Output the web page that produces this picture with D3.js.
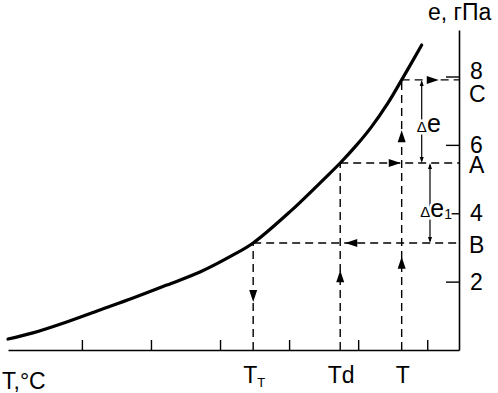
<!DOCTYPE html>
<html><head><meta charset="utf-8">
<script src="https://cdn.jsdelivr.net/npm/d3@7"></script>
<style>
html,body{margin:0;padding:0;background:#fff;}
svg{display:block;}
text{font-family:"Liberation Sans",Arial,sans-serif;fill:#000;}
</style></head>
<body>
<svg id="chart" width="498" height="393"></svg>
<script>
// ---- data ----
const curveT = [-0.07, 0.29, 0.78, 1.26, 1.74, 2.23, 2.71, 3.19, 3.48, 4.01, 4.52, 4.74, 4.98, 5.19, 5.43, 5.63, 5.92];
const curveE = [0.32, 0.50, 0.82, 1.17, 1.52, 1.90, 2.28, 2.78, 3.13, 4.04, 5.03, 5.47, 6.00, 6.52, 7.22, 7.90, 8.92];
const xTickValues = [1, 2, 3, 4, 5, 6];
const yTickValues = [2, 4, 6, 8];
const yTickLabels = ["2", "4", "6", "8"];
const pointNames = ["B", "A", "C"];
const pointE = [3.13, 5.47, 7.90];
const tempNames = ["Tт", "Td", "T"];
const tempValues = [3.48, 4.74, 5.63];
// arrows on guide lines: [t, e, direction]
const arrowT = [5.63, 5.63, 4.74, 3.48, 4.90, 5.53, 6.08];
const arrowE = [2.55, 6.25, 2.16, 1.58, 3.13, 5.47, 7.90];
const arrowDir = ["up", "up", "up", "down", "left", "right", "right"];

// ---- scales ----
const svg = d3.select("#chart");
const x = d3.scaleLinear().domain([-0.07, 6.46]).range([8, 459]);
const y = d3.scaleLinear().domain([0, 9.36]).range([350, 30]);

// ---- axes ----
const xAxis = d3.axisBottom(x).tickValues(xTickValues).tickSize(-10).tickSizeOuter(0).tickFormat("");
const gx = svg.append("g").attr("transform", `translate(0,${y(0)})`).call(xAxis);
const yAxis = d3.axisLeft(y).tickValues(yTickValues).tickSize(13).tickSizeOuter(0).tickFormat("");
const gy = svg.append("g").attr("transform", `translate(${x(6.46)},0)`).call(yAxis);
[gx, gy].forEach(g => {
  g.select(".domain").attr("stroke", "#000").attr("stroke-width", 1.6);
  g.selectAll(".tick line").attr("stroke", "#000").attr("stroke-width", 1.4);
});

// ---- dashed guide lines ----
const dash = "8,5";
const gl = svg.append("g").attr("stroke", "#000").attr("stroke-width", 1.4).attr("stroke-dasharray", dash).attr("fill", "none");
tempValues.forEach((t, i) => {
  const e = pointE[i];
  gl.append("line").attr("x1", x(t)).attr("x2", x(t)).attr("y1", y(0)).attr("y2", y(e));
  gl.append("line").attr("x1", x(t)).attr("x2", x(6.46)).attr("y1", y(e)).attr("y2", y(e));
});

// ---- curve ----
const pts = curveT.map((t, i) => [t, curveE[i]]);
svg.append("path").datum(pts)
  .attr("fill", "none").attr("stroke", "#000").attr("stroke-width", 3.2).attr("stroke-linecap", "round")
  .attr("d", d3.line().x(d => x(d[0])).y(d => y(d[1])).curve(d3.curveCatmullRom.alpha(0.5)));

// ---- arrowheads ----
function head(px, py, dir, L, W) {
  const rot = {up: 0, down: 180, right: 90, left: -90}[dir];
  return svg.append("path")
    .attr("d", `M0,${-L/2} L${W/2},${L/2} L${-W/2},${L/2} Z`)
    .attr("transform", `translate(${px},${py}) rotate(${rot})`)
    .attr("fill", "#000");
}
arrowT.forEach((t, i) => head(x(t), y(arrowE[i]), arrowDir[i], 12, 8));

// ---- delta arrows ----
const dPairs = [[5.92, pointE[2], pointE[1]], [6.04, pointE[1], pointE[0]]];
dPairs.forEach(([t, e1, e2]) => {
  svg.append("line").attr("x1", x(t)).attr("x2", x(t)).attr("y1", y(e1) + 2).attr("y2", y(e2) - 2)
    .attr("stroke", "#000").attr("stroke-width", 1.2);
  head(x(t), y(e1) + 3, "up", 6, 4);
  head(x(t), y(e2) - 3, "down", 6, 4);
});
// delta labels
function deltaText(t, e, sub) {
  const tx = svg.append("text").attr("x", x(t)).attr("y", y(e))
    .attr("stroke", "#fff").attr("stroke-width", 5).attr("paint-order", "stroke");
  tx.append("tspan").attr("font-size", 15).text("Δ");
  tx.append("tspan").attr("font-size", 25).text("e");
  if (sub) tx.append("tspan").attr("font-size", 14).attr("dy", 2).text(sub);
}
deltaText(5.85, (pointE[2] + pointE[1]) / 2 - 0.3, null);
deltaText(5.90, (pointE[1] + pointE[0]) / 2 - 0.4, "1");

// ---- labels ----
const fs = 23;
yTickValues.forEach((v, i) => {
  svg.append("text").attr("x", 470).attr("y", y(v) + (v === 8 ? 3 : 8)).attr("font-size", fs).text(yTickLabels[i]);
});
const letterDy = {B: 10, A: 10, C: 22};
pointNames.forEach((n, i) => {
  svg.append("text").attr("x", 469).attr("y", y(pointE[i]) + letterDy[n]).attr("font-size", fs).text(n);
});
// bottom temperature labels
tempNames.forEach((n, i) => {
  const t = svg.append("text").attr("y", 383).attr("font-size", fs);
  if (n === "Tт") {
    t.attr("x", x(tempValues[i]) - 10);
    t.append("tspan").text("T");
    t.append("tspan").attr("font-size", 13).attr("dy", 4).text("T");
  } else {
    t.attr("x", x(tempValues[i]) + 1).attr("text-anchor", "middle").text(n);
  }
});
svg.append("text").attr("x", 2).attr("y", 389).attr("font-size", fs).text("T,°C");
svg.append("text").attr("x", 428).attr("y", 20).attr("font-size", fs).text("e, гПа");
</script>
</body></html>
